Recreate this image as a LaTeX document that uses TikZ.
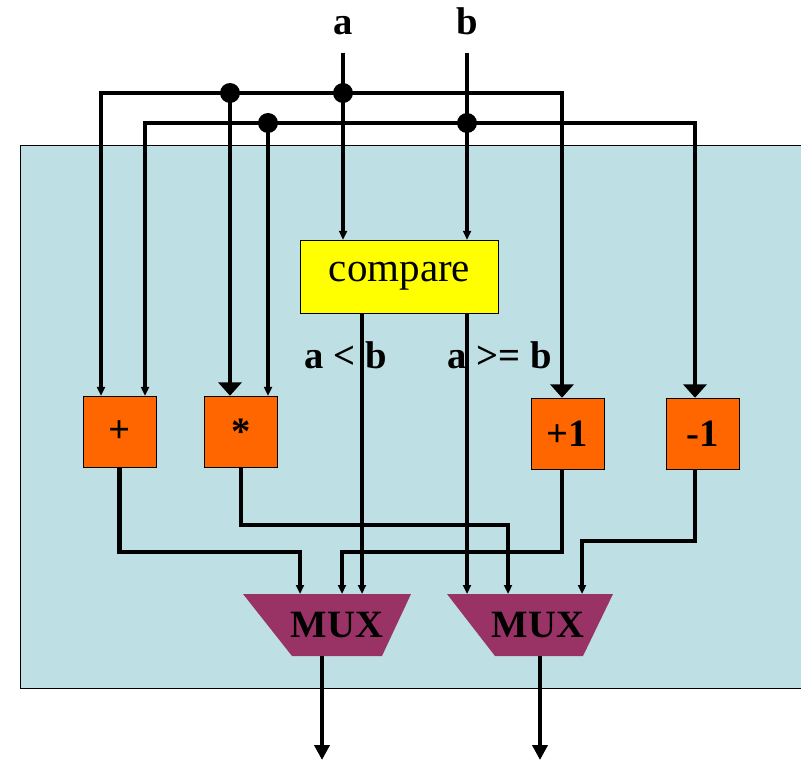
\documentclass[tikz,border=0pt]{standalone}
\usepackage{fontspec}
\setmainfont{Liberation Serif}
\usetikzlibrary{arrows.meta}
\definecolor{panel}{RGB}{190,224,228}
\definecolor{cmpy}{RGB}{255,255,0}
\definecolor{opor}{RGB}{255,102,0}
\definecolor{muxc}{RGB}{153,51,102}

\begin{document}
\begin{tikzpicture}[x=0.03cm, y=-0.03cm,
	lbl/.style={font=\fontsize{33}{36}\selectfont\bfseries, inner sep=0pt},
	op/.style={draw, fill=opor, minimum width=2.19cm, minimum height=2.13cm, inner sep=0pt, font=\fontsize{33}{36}\selectfont\bfseries},
	cmp/.style={draw, fill=cmpy, minimum width=5.94cm, minimum height=2.19cm, inner sep=0pt, font=\fontsize{35}{38}\selectfont},
	mux/.style={fill=muxc},
	w/.style={line width=2.6pt}, ww/.style={line width=3.6pt},
	tipS/.tip={Triangle[width=0.24cm,length=0.27cm]},
	tipB/.tip={Triangle[width=0.69cm,length=0.4cm]},
	tipO/.tip={Triangle[width=0.45cm,length=0.45cm]}]
	\useasboundingbox (0,0) rectangle (801,760);
	\filldraw[fill=panel, draw=black, line width=0.7pt] (20,145) rectangle (801,688);
	% inputs and units
	\node[lbl, anchor=base] (a) at (343,35) {a}; \node[lbl, anchor=base] (b) at (467,35) {b};
	\node[cmp] (cmp) at (399.5,276.5) {compare};
	\node[op] (add) at (119.5,431.5) {+}; \node[op] (mul) at (241,431.5) {*};
	\node[op] (inc) at (567.3,433.5) {+1}; \node[op] (dec) at (702.3,433.5) {-1};
	\node[lbl, anchor=base] (ltl) at (346,368) {a < b}; \node[lbl, anchor=base] (gel) at (499.5,368) {a >= b};
	% buses
	\coordinate (u1) at (101,93); \coordinate (u2) at (562,93);
	\coordinate (l1) at (145,123); \coordinate (l2) at (695,123);
	\coordinate (jm) at (230,93); \coordinate (jn) at (268,123);
	\draw[w, {tipS}-{tipB}] (u1 |- add.north) |- (u2) -- (u2 |- inc.north);
	\draw[w, {tipS}-{tipB}] (l1 |- add.north) |- (l2) -- (l2 |- dec.north);
	\draw[w, -{tipB}] (jm) -- (jm |- mul.north);
	\draw[w, -{tipS}] (jn) -- (jn |- mul.north);
	\draw[w, -{tipS}] ([yshift=-0.51cm]a.south) -- (a |- cmp.north);
	\draw[w, -{tipS}] ([yshift=-0.51cm]b.south) -- (b |- cmp.north);
	\foreach \j in {jm, jn, a |- u1, b |- l1} \fill (\j) circle[radius=0.3cm];
	% muxes
	\coordinate (mL) at (327,594); \coordinate (mR) at (530,594);
	\fill[mux] (243,594) -- (411,594) -- (382,656) -- (292,656) -- cycle;
	\fill[mux] (447,594) -- (613,594) -- (583,656) -- (495,656) -- cycle;
	\node[lbl] (muxL) at (337,625) {MUX}; \node[lbl] (muxR) at (538,625) {MUX};
	% results into muxes
	\coordinate (lt) at (362,313);
	\draw[w, -{tipS}] (lt) -- (lt |- mL);
	\draw[w, -{tipS}] (b |- cmp.south) -- (b |- mR);
	\coordinate (p1) at (300,552); \coordinate (p2) at (508,525);
	\coordinate (p3) at (342,552); \coordinate (p4) at (582,541);
	\draw[ww, -{tipS}] (add.south) |- (p1) -- (p1 |- mL);
	\draw[ww, -{tipS}] (mul.south) |- (p2) -- (p2 |- mR);
	\draw[ww, -{tipS}] (u2 |- inc.south) |- (p3) -- (p3 |- mL);
	\draw[ww, -{tipS}] (l2 |- dec.south) |- (p4) -- (p4 |- mR);
	% outputs
	\coordinate (mLb) at (322,656); \coordinate (mRb) at (540,656);
	\coordinate (oL) at (322,760); \coordinate (oR) at (540,760);
	\draw[ww, -{tipO}] (mLb) -- (oL);
	\draw[ww, -{tipO}] (mRb) -- (oR);
\end{tikzpicture}
\end{document}
